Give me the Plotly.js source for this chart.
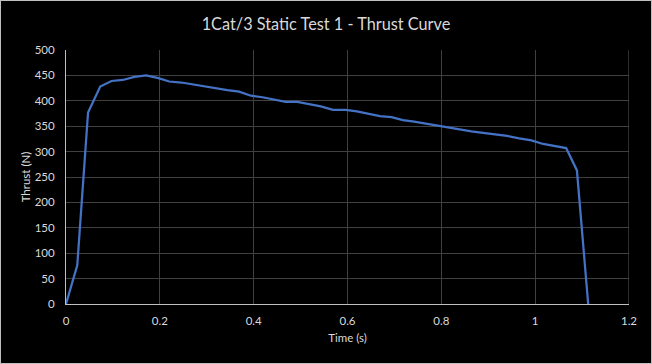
<!DOCTYPE html>
<html>
<head>
<meta charset="utf-8">
<script src="https://cdn.plot.ly/plotly-3.0.1.min.js"></script>
<style>
html,body{margin:0;padding:0;background:#000;}
#chart{width:650px;height:362px;border:1px solid #bfbfbf;}
</style>
</head>
<body>
<div id="chart"></div>
<script>
const timeS = [0, 0.024, 0.047, 0.073, 0.097, 0.121, 0.146, 0.171, 0.195, 0.220, 0.246, 0.270, 0.295, 0.320, 0.344, 0.369, 0.394, 0.419, 0.444, 0.468, 0.493, 0.518, 0.543, 0.569, 0.596, 0.620, 0.644, 0.669, 0.694, 0.718, 0.742, 0.766, 0.790, 0.815, 0.840, 0.864, 0.889, 0.914, 0.940, 0.966, 0.992, 1.017, 1.041, 1.066, 1.089, 1.113];
const thrustN = [0, 76, 377, 428, 439, 441, 447, 450, 445, 438, 436, 432, 428, 424, 421, 418, 410, 407, 403, 398, 398, 394, 389, 382, 382, 379, 374, 370, 368, 362, 359, 355, 351, 348, 344, 340, 337, 334, 331, 326, 322, 315, 311, 307, 263, 0];
const xTicks = [0, 0.2, 0.4, 0.6, 0.8, 1, 1.2];
const yTicks = [0, 50, 100, 150, 200, 250, 300, 350, 400, 450, 500];

const FONT = 'Lato, "Open Sans", sans-serif';
const TXT = '#d9d9d9';

Plotly.newPlot('chart', [{
  x: timeS, y: thrustN, type: 'scatter', mode: 'lines',
  line: {color: '#4472C4', width: 2.25},
  hoverinfo: 'skip'
}], {
  width: 650, height: 362,
  paper_bgcolor: '#000', plot_bgcolor: '#000',
  margin: {l: 65, r: 22, t: 49, b: 59},
  showlegend: false,
  title: {text: '1Cat/3 Static Test 1 - Thrust Curve', x: 0.5, xanchor: 'center', y: 0.935, yanchor: 'middle',
          font: {family: FONT, size: 16.3, color: TXT}},
  xaxis: {
    range: [0, 1.2], tickvals: xTicks, ticktext: xTicks.map(String),
    showgrid: true, gridcolor: '#404040', gridwidth: 1,
    showline: true, linecolor: '#bfbfbf', linewidth: 1,
    zeroline: false, ticks: '', ticklabelstandoff: 6,
    tickfont: {family: FONT, size: 11.5, color: TXT},
    title: {text: 'Time (s)', font: {family: FONT, size: 11.5, color: TXT}, standoff: 8}
  },
  yaxis: {
    range: [0, 500], tickvals: yTicks, ticktext: yTicks.map(String),
    showgrid: true, gridcolor: '#404040', gridwidth: 1,
    showline: true, linecolor: '#bfbfbf', linewidth: 1,
    zeroline: false, ticks: '', ticklabelstandoff: 8,
    tickfont: {family: FONT, size: 11.5, color: TXT},
    title: {text: 'Thrust (N)', font: {family: FONT, size: 11.5, color: TXT}, standoff: 1}
  },
  shapes: [{type: 'line', xref: 'x', yref: 'paper', x0: 1.2, x1: 1.2, y0: 0, y1: 1, line: {color: '#595959', width: 1}}]
}, {displayModeBar: false, staticPlot: true});
</script>
</body>
</html>
